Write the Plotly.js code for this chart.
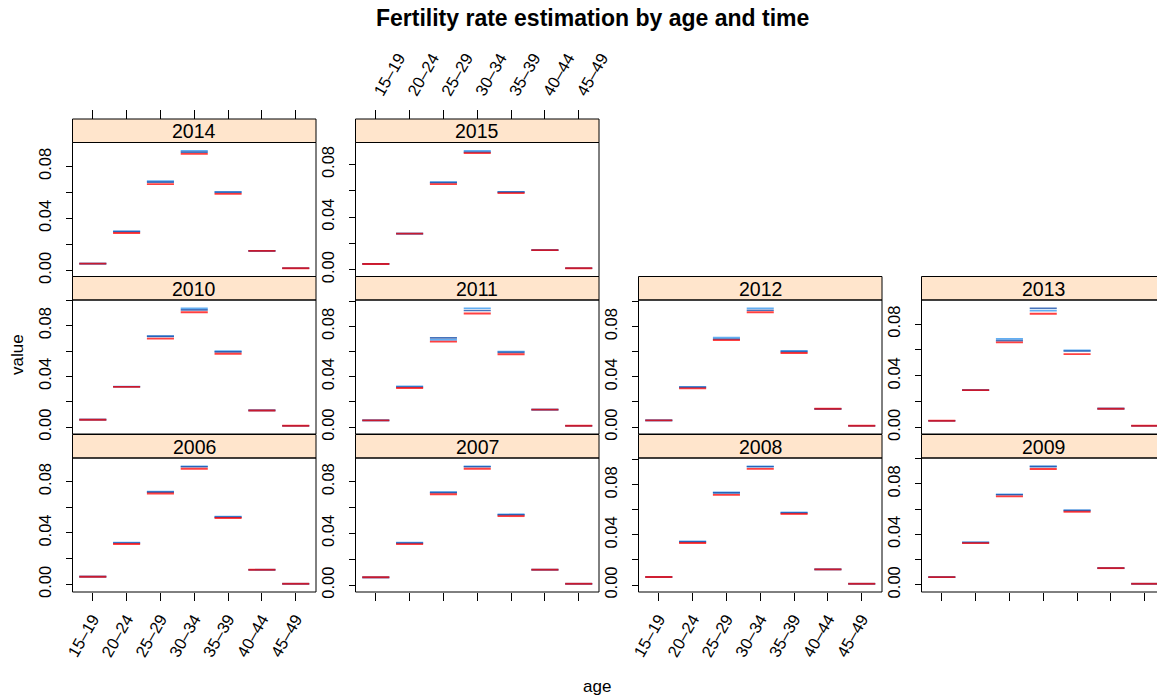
<!DOCTYPE html>
<html>
<head>
<meta charset="utf-8">
<script src="https://cdn.plot.ly/plotly-3.0.1.min.js"></script>
<style>
  html, body { margin: 0; padding: 0; background: #ffffff; }
  #chart { width: 1157px; height: 699px; }
</style>
</head>
<body>
<div id="chart"></div>
<script>
// Age groups on the x axis of every panel
const ages = ["15–19", "20–24", "25–29", "30–34", "35–39", "40–44", "45–49"];

// One panel per year
const years = [2006, 2007, 2008, 2009, 2010, 2011, 2012, 2013, 2014, 2015];

// Estimated fertility rates, one row per year (same order as `years`)
const estLight = [
  [0.0060, 0.0326, 0.0722, 0.0919, 0.0527, 0.0114, 0.0005],
  [0.0060, 0.0329, 0.0720, 0.0920, 0.0548, 0.0119, 0.0010],
  [0.0064, 0.0348, 0.0740, 0.0949, 0.0580, 0.0125, 0.0010],
  [0.0061, 0.0336, 0.0718, 0.0940, 0.0591, 0.0132, 0.0008],
  [0.0058, 0.0320, 0.0718, 0.0938, 0.0599, 0.0131, 0.0010],
  [0.0053, 0.0323, 0.0693, 0.0944, 0.0600, 0.0138, 0.0010],
  [0.0053, 0.0319, 0.0713, 0.0946, 0.0606, 0.0145, 0.0010],
  [0.0052, 0.0289, 0.0685, 0.0904, 0.0597, 0.0145, 0.0013],
  [0.0052, 0.0301, 0.0687, 0.0921, 0.0605, 0.0150, 0.0016],
  [0.0043, 0.0274, 0.0666, 0.0905, 0.0592, 0.0148, 0.0010]
];

const estDark = [
  [0.0060, 0.0322, 0.0718, 0.0915, 0.0524, 0.0114, 0.0005],
  [0.0060, 0.0325, 0.0716, 0.0916, 0.0544, 0.0119, 0.0010],
  [0.0064, 0.0344, 0.0736, 0.0945, 0.0576, 0.0125, 0.0010],
  [0.0061, 0.0334, 0.0714, 0.0937, 0.0588, 0.0132, 0.0008],
  [0.0058, 0.0318, 0.0715, 0.0925, 0.0594, 0.0131, 0.0010],
  [0.0053, 0.0318, 0.0709, 0.0926, 0.0594, 0.0138, 0.0010],
  [0.0053, 0.0316, 0.0700, 0.0930, 0.0600, 0.0145, 0.0010],
  [0.0052, 0.0289, 0.0672, 0.0923, 0.0592, 0.0145, 0.0013],
  [0.0052, 0.0298, 0.0679, 0.0910, 0.0600, 0.0150, 0.0016],
  [0.0043, 0.0274, 0.0662, 0.0895, 0.0590, 0.0148, 0.0010]
];

const estRed = [
  [0.0060, 0.0314, 0.0707, 0.0899, 0.0516, 0.0114, 0.0005],
  [0.0060, 0.0317, 0.0703, 0.0900, 0.0534, 0.0119, 0.0010],
  [0.0064, 0.0336, 0.0720, 0.0928, 0.0568, 0.0125, 0.0010],
  [0.0061, 0.0330, 0.0701, 0.0918, 0.0579, 0.0132, 0.0008],
  [0.0058, 0.0317, 0.0698, 0.0906, 0.0579, 0.0131, 0.0010],
  [0.0053, 0.0310, 0.0679, 0.0902, 0.0578, 0.0138, 0.0010],
  [0.0053, 0.0308, 0.0692, 0.0914, 0.0590, 0.0145, 0.0010],
  [0.0052, 0.0289, 0.0659, 0.0880, 0.0568, 0.0145, 0.0013],
  [0.0052, 0.0288, 0.0664, 0.0897, 0.0589, 0.0150, 0.0016],
  [0.0043, 0.0274, 0.0651, 0.0887, 0.0582, 0.0148, 0.0010]
];

// Y tick positions and their labels
const yTickVals = [0, 0.02, 0.04, 0.06, 0.08, 0.10];
const yTickText = ["0.00", "", "0.04", "", "0.08", ""];

// ---- page geometry (pixels) ----
const W = 1157, H = 699;
const colX = [72.5, 355.5, 638.5, 921.5];
const panelW = 243.5;
const rowTop = [119, 276.5, 434.5];
const stripH = 23.5;
const panelH = 134;
const FONT = "Liberation Sans, Arial, Helvetica, sans-serif";
const TICK_SIZE = 16.5;

// panel placement for each year: [row, col], row 0 = top
const place = {
  2006: [2, 0], 2007: [2, 1], 2008: [2, 2], 2009: [2, 3],
  2010: [1, 0], 2011: [1, 1], 2012: [1, 2], 2013: [1, 3],
  2014: [0, 0], 2015: [0, 1]
};

const series = [
  { data: estLight, color: "rgba(70,160,240,0.85)", width: 1.7 },
  { data: estDark,  color: "rgba(25,80,170,0.80)",  width: 1.7 },
  { data: estRed,   color: "rgba(255,0,0,0.75)",    width: 1.9 }
];

const traces = [];
const layout = {
  width: W, height: H,
  margin: { l: 0, r: 0, t: 0, b: 0 },
  paper_bgcolor: "#ffffff",
  plot_bgcolor: "rgba(0,0,0,0)",
  showlegend: false,
  font: { family: FONT, color: "#000000", size: 13 },
  shapes: [],
  annotations: []
};

years.forEach((yr, k) => {
  const [r, c] = place[yr];
  const n = k + 1;
  const xa = "x" + (n === 1 ? "" : n);
  const ya = "y" + (n === 1 ? "" : n);
  const xKey = "xaxis" + (n === 1 ? "" : n);
  const yKey = "yaxis" + (n === 1 ? "" : n);

  const x0 = colX[c];
  const xRight = Math.min(x0 + panelW, W);
  const pTop = rowTop[r] + stripH;
  const pBot = pTop + panelH;

  // free y scale with 7% padding on the panel's own data
  const all = series.flatMap(s => s.data[k]);
  const lo = Math.min(...all), hi = Math.max(...all);
  const pad = 0.07 * (hi - lo);

  const isBottom = (r === 2);
  const isTop = (r === 0);
  const xLabels = (yr === 2006 || yr === 2008 || yr === 2015);

  const xaxis = {
    domain: [x0 / W, xRight / W],
    range: [0.4, 0.4 + 7.2 * (xRight - x0) / panelW],
    anchor: ya,
    side: isTop ? "top" : "bottom",
    tickmode: "array",
    tickvals: ages.map((_, i) => i + 1),
    ticktext: ages,
    ticks: (isBottom || isTop) ? "outside" : "",
    ticklen: isTop ? 9 : 8,
    tickcolor: "#000000",
    tickwidth: 1,
    showticklabels: xLabels,
    tickangle: -60,
    ticklabelstandoff: 2,
    tickfont: { family: FONT, size: TICK_SIZE, color: "#000000" },
    showgrid: false, zeroline: false, showline: false,
    fixedrange: true
  };
  if (isTop) {
    // top-row axes sit above the strip
    xaxis.anchor = "free";
    xaxis.position = 1 - rowTop[r] / H;
  }
  layout[xKey] = xaxis;

  layout[yKey] = {
    domain: [1 - pBot / H, 1 - pTop / H],
    range: [lo - pad, hi + pad],
    anchor: xa,
    tickmode: "array",
    tickvals: yTickVals,
    ticktext: yTickText,
    ticks: "outside",
    ticklen: 6,
    tickcolor: "#000000",
    tickwidth: 1,
    tickangle: -90,
    ticklabelstandoff: 8,
    tickfont: { family: FONT, size: TICK_SIZE, color: "#000000" },
    showgrid: false, zeroline: false, showline: false,
    fixedrange: true
  };

  // one short horizontal segment per age group and series
  series.forEach(s => {
    const xs = [], ys = [];
    s.data[k].forEach((v, i) => {
      xs.push(i + 1 - 0.4, i + 1 + 0.4, null);
      ys.push(v, v, null);
    });
    traces.push({
      type: "scatter", mode: "lines",
      x: xs, y: ys, xaxis: xa, yaxis: ya,
      line: { color: s.color, width: s.width },
      hoverinfo: "skip"
    });
  });

  // panel frame
  layout.shapes.push({
    type: "rect", xref: "paper", yref: "paper",
    x0: x0 / W, x1: (x0 + panelW) / W,
    y0: 1 - pBot / H, y1: 1 - pTop / H,
    line: { color: "#000000", width: 1 }, fillcolor: "rgba(0,0,0,0)",
    layer: "above"
  });
  // strip
  layout.shapes.push({
    type: "rect", xref: "paper", yref: "paper",
    x0: x0 / W, x1: (x0 + panelW) / W,
    y0: 1 - pTop / H, y1: 1 - rowTop[r] / H,
    line: { color: "#000000", width: 1 }, fillcolor: "#ffe5cc",
    layer: "below"
  });
  layout.annotations.push({
    xref: "paper", yref: "paper",
    x: (x0 + panelW / 2) / W, y: 1 - (rowTop[r] + stripH / 2 + 0.5) / H,
    text: String(yr), showarrow: false,
    xanchor: "center", yanchor: "middle",
    font: { family: FONT, size: 19.5, color: "#000000" }
  });
});

// figure title and axis titles
layout.annotations.push({
  xref: "paper", yref: "paper", x: 592 / W, y: 1 - 18 / H,
  text: "<b>Fertility rate estimation by age and time</b>",
  showarrow: false, xanchor: "center", yanchor: "middle",
  font: { family: FONT, size: 23, color: "#000000" }
});
layout.annotations.push({
  xref: "paper", yref: "paper", x: 597 / W, y: 1 - 686 / H,
  text: "age", showarrow: false, xanchor: "center", yanchor: "middle",
  font: { family: FONT, size: 17, color: "#000000" }
});
layout.annotations.push({
  xref: "paper", yref: "paper", x: 17 / W, y: 1 - 355 / H,
  text: "value", showarrow: false, textangle: -90,
  xanchor: "center", yanchor: "middle",
  font: { family: FONT, size: 17, color: "#000000" }
});

Plotly.newPlot("chart", traces, layout, { displayModeBar: false, staticPlot: true });
</script>
</body>
</html>
